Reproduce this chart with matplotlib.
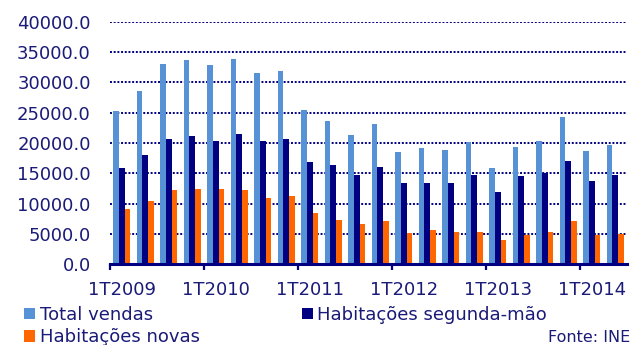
import matplotlib
matplotlib.use("Agg")
import matplotlib.pyplot as plt
import numpy as np
from matplotlib.patches import Patch

quarters = ["1T2009", "2T2009", "3T2009", "4T2009",
            "1T2010", "2T2010", "3T2010", "4T2010",
            "1T2011", "2T2011", "3T2011", "4T2011",
            "1T2012", "2T2012", "3T2012", "4T2012",
            "1T2013", "2T2013", "3T2013", "4T2013",
            "1T2014", "2T2014"]
total_vendas = [25200, 28600, 33000, 33700, 32800, 33800, 31500, 31800,
                25400, 23600, 21300, 23200, 18500, 19100, 18800, 20100,
                15900, 19300, 20300, 24300, 18600, 19600]
segunda_mao = [15900, 18100, 20600, 21200, 20300, 21500, 20400, 20600,
               16900, 16400, 14700, 16000, 13400, 13400, 13400, 14700,
               11900, 14500, 15000, 17100, 13700, 14700]
novas = [9200, 10400, 12250, 12400, 12400, 12250, 10950, 11200,
         8450, 7300, 6650, 7150, 5100, 5650, 5350, 5350,
         4000, 4750, 5350, 7100, 4800, 5000]
year_labels = ["1T2009", "1T2010", "1T2011", "1T2012", "1T2013", "1T2014"]

C_TOTAL = "#5892D6"
C_SEG = "#000080"
C_NOV = "#FF6600"
TXT = "#1a1a78"
FS = 13

fig = plt.figure(figsize=(6.33, 3.45), dpi=100)
W, H = 633, 345
ax = fig.add_axes([110 / W, 1 - 264.3 / H, 517 / W, (264.3 - 21.7) / H])

n = len(quarters)
x = np.arange(n) + 0.5
bw = 0.24
ax.bar(x - bw, total_vendas, width=bw, color=C_TOTAL, zorder=2)
ax.bar(x, segunda_mao, width=bw, color=C_SEG, zorder=2)
ax.bar(x + bw, novas, width=bw, color=C_NOV, zorder=2)

ax.set_xlim(0, n)
ax.set_ylim(0, 40000)
ax.set_yticks(np.arange(0, 40001, 5000))
ax.set_yticklabels([f"{v:.1f}" for v in np.arange(0, 40001, 5000)])
ax.tick_params(axis="y", length=0, pad=13.9, labelsize=FS, labelcolor=TXT)

# year ticks at boundaries, labels centred on first quarter of each year
ax.set_xticks([0, 4, 8, 12, 16, 20])
ax.set_xticklabels([])
ax.tick_params(axis="x", which="major", direction="out", length=4.5, width=1.6, color=C_SEG)
ax.set_xticks([0.5, 4.5, 8.5, 12.5, 16.5, 20.5], minor=True)
ax.set_xticklabels(year_labels, minor=True)
ax.tick_params(axis="x", which="minor", length=0, pad=11.8, labelsize=FS, labelcolor=TXT)

for s in ["left", "right", "top"]:
    ax.spines[s].set_visible(False)
ax.spines["bottom"].set_color(C_SEG)
ax.spines["bottom"].set_linewidth(2.2)
ax.spines["bottom"].set_zorder(3)

ax.set_axisbelow(True)
for v in np.arange(5000, 40001, 5000):
    ax.axhline(v, color=C_SEG, lw=1.4, linestyle=(0, (1, 0.9)), zorder=1)

h_total = Patch(facecolor=C_TOTAL, edgecolor="none", label="Total vendas")
h_seg = Patch(facecolor=C_SEG, edgecolor="none", label="Habitações segunda-mão")
h_nov = Patch(facecolor=C_NOV, edgecolor="none", label="Habitações novas")

common = dict(frameon=False, fontsize=FS, handlelength=0.62, handleheight=0.62,
              handletextpad=0.25, borderpad=0, borderaxespad=0, labelspacing=0.24)
leg1 = fig.legend(handles=[h_total, h_nov], loc="upper left",
                  bbox_to_anchor=(24 / W, 1 - 306 / H), **common)
for t in leg1.get_texts():
    t.set_color(TXT)
leg2 = fig.legend(handles=[h_seg], loc="upper left",
                  bbox_to_anchor=(301.7 / W, 1 - 306 / H), **common)
for t in leg2.get_texts():
    t.set_color(TXT)

fig.text(630 / W, 1 - 337 / H, "Fonte: INE", ha="right", va="center",
         fontsize=11.5, color=TXT)

fig.savefig("out.png", dpi=100)
